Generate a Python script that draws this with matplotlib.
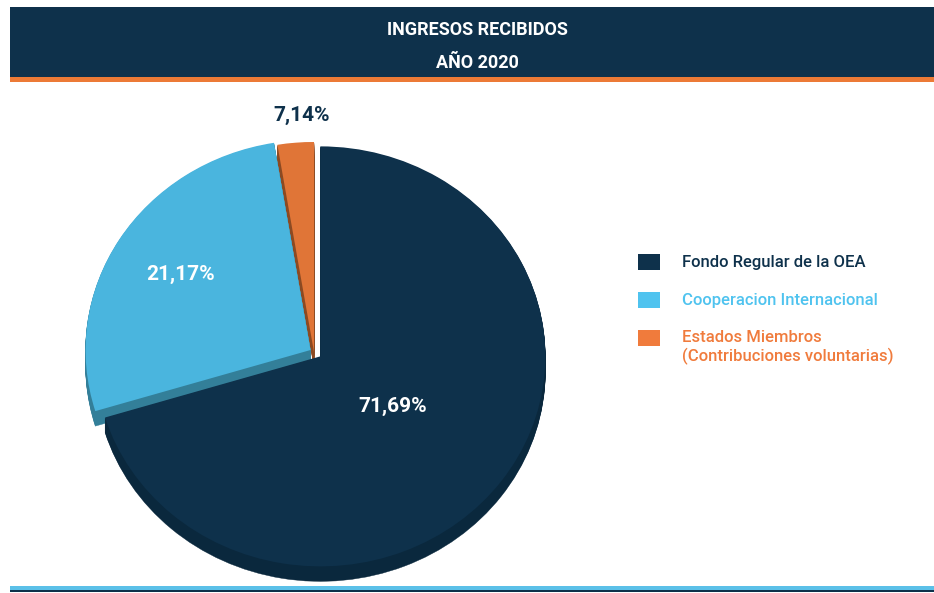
import matplotlib
matplotlib.use("Agg")
import matplotlib.pyplot as plt
from matplotlib.patches import Rectangle
import numpy as np

# --- data ---
names = ["Fondo Regular de la OEA", "Cooperacion Internacional",
         "Estados Miembros\n(Contribuciones voluntarias)"]
pct_text = ["71,69%", "21,17%", "7,14%"]          # printed labels
wedge_share = [70.3, 27.1, 2.6]                    # wedge sizes as drawn
title_lines = ["INGRESOS RECIBIDOS", "AÑO 2020"]

# --- style ---
navy = "#0e314b"
top_colors = [navy, "#4ab5de", "#e07537"]
side_colors = ["#0a283d", "#337f99", "#8c4a22"]
legend_box = [navy, "#4fc3ef", "#f07b3c"]
legend_txt = [navy, "#4fc3ef", "#f07b3c"]
explode = [0.035, 0.018, 0.0]
narrow = ["Roboto", "DejaVu Sans"]

W, H = 934, 593
fig = plt.figure(figsize=(W / 100, H / 100), dpi=100)

# decoration layer in pixel coordinates
deco = fig.add_axes([0, 0, 1, 1])
deco.set_xlim(0, W)
deco.set_ylim(H, 0)
deco.axis("off")
deco.add_patch(Rectangle((10, 7), W - 10, 70, color=navy, lw=0))
deco.add_patch(Rectangle((10, 77), W - 10, 5, color="#ec7a36", lw=0))
deco.add_patch(Rectangle((10, 586), W - 10, 4, color="#5bc0e8", lw=0))
deco.add_patch(Rectangle((10, 590), W - 10, 2, color=navy, lw=0))
deco.text(477, 30, title_lines[0], color="white", fontsize=13, fontweight="bold",
          family=narrow, ha="center", va="center")
deco.text(477, 63, title_lines[1], color="white", fontsize=13, fontweight="bold",
          family=narrow, ha="center", va="center")

# legend
rows_y = [262, 300, 338]
for y, name, bc, tc in zip(rows_y, names, legend_box, legend_txt):
    deco.add_patch(Rectangle((638, y - 8), 22, 16, color=bc, lw=0))
    first, *rest = name.split("\n")
    deco.text(682, y, first, color=tc, fontsize=12, fontweight="medium",
              family=narrow, ha="left", va="center")
    for i, line in enumerate(rest):
        deco.text(682, y + 18 * (i + 1), line, color=tc, fontsize=12,
                  fontweight="medium", family=narrow, ha="left", va="center")

# pie layer: unit circle -> ellipse 225 x 210 px, centre at pixel (314, 352)
rx, ry = 225.0, 210.0
cx, cy = 314.0, 352.0
ax = fig.add_axes([0, 0, 1, 1])
ax.patch.set_alpha(0)

depth_px = 15
for k in range(depth_px, 0, -1):
    ax.pie(wedge_share, colors=side_colors, startangle=90, counterclock=False,
           explode=explode, center=(0, -k / ry),
           wedgeprops=dict(linewidth=0.3))
    for w in ax.patches[-3:]:
        w.set_edgecolor(w.get_facecolor())

wedges, _ = ax.pie(wedge_share, colors=top_colors, startangle=90,
                   counterclock=False, explode=explode,
                   wedgeprops=dict(linewidth=0))

ax.set_aspect("auto")
ax.set_xlim(-cx / rx, (W - cx) / rx)
ax.set_ylim(-(H - cy) / ry, cy / ry)
ax.axis("off")

# percentage labels
label_r = [0.40, 0.68, 1.13]
label_col = ["white", "white", navy]
for w, txt, r, c in zip(wedges, pct_text, label_r, label_col):
    mid = np.deg2rad((w.theta1 + w.theta2) / 2)
    x = w.center[0] + r * np.cos(mid)
    y = w.center[1] + r * np.sin(mid)
    if c == navy:
        x += 8 / rx   # outside label sits a little right of the wedge middle
    ax.text(x, y, txt, color=c, fontsize=15, fontweight="bold", family=narrow,
            ha="center", va="center")

fig.savefig("out.png", dpi=100)
